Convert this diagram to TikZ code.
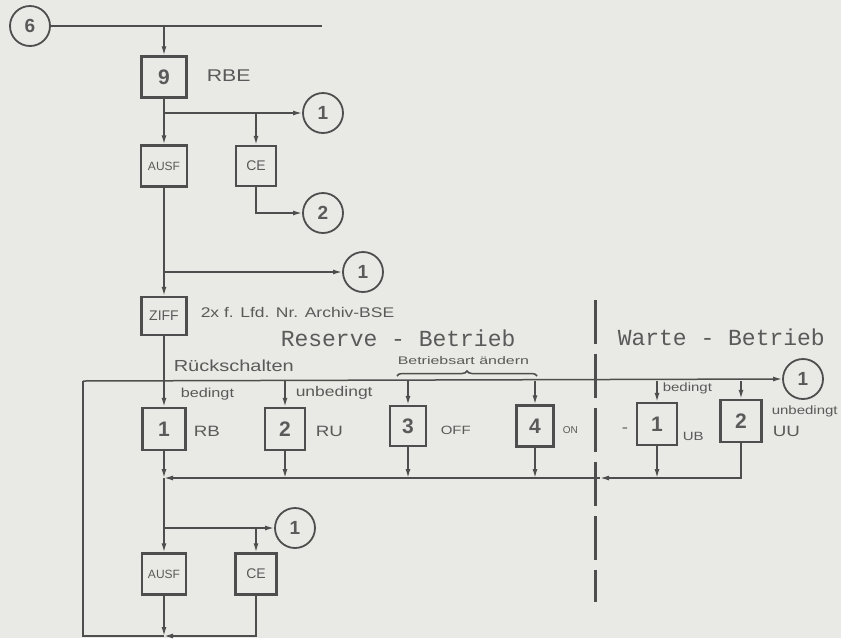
\documentclass[tikz,border=0pt]{standalone}
\definecolor{papergray}{RGB}{233, 233, 229}
\definecolor{inkgray}{RGB}{78, 78, 78}
\definecolor{textgray}{RGB}{90, 90, 90}
\usepackage{fontspec}
\setmainfont{Liberation Sans}
\newfontfamily\stencilfont{Liberation Mono}
\newfontfamily\handfont[FakeStretch=1.25]{Liberation Sans}
\newfontfamily\widehandfont[FakeStretch=1.45]{Liberation Sans}
\usepackage{tikz}
\usetikzlibrary{
    arrows.meta,
    positioning,
    calc,
    decorations.pathreplacing
}

\begin{document}
\begin{tikzpicture}[x=1pt, y=-1pt, line width=1.5pt, draw=inkgray, text=textgray,
            stepbox/.style={draw=inkgray, line width=2.4pt, minimum width=42pt, minimum height=41pt, inner sep=0pt, font=\fontsize{21}{21}\selectfont\bfseries},
            opbox/.style={stepbox, font=\fontsize{12}{12}\selectfont},
            refcircle/.style={draw=inkgray, circle, line width=1.8pt, minimum size=40pt, inner sep=0pt, font=\fontsize{19}{19}\selectfont\bfseries},
            flow/.style={-{Latex[length=9pt, width=5pt]}},
            note/.style={anchor=west, inner sep=0pt, font=\handfont\fontsize{12}{12}\selectfont},
            tag/.style={anchor=west, inner sep=0pt, font=\handfont\fontsize{15}{15}\selectfont},
            headline/.style={anchor=west, inner sep=0pt, font=\stencilfont\fontsize{23}{23}\selectfont}]

            % Frame
            \fill[papergray] (0,0) rectangle (841,638);
            \useasboundingbox (0,0) rectangle (841,638);

            % Upper chain
            \node[refcircle] (c6) at (30,26) {6};
            \node[stepbox, minimum width=45pt] (b9) at (164,77) {9};
            \node[tag, font=\handfont\fontsize{17}{17}\selectfont] (rbe) at (206,76) {RBE};
            \node[opbox, minimum width=46pt] (ausf1) at (164,166) {AUSF};
            \node[opbox, minimum width=40pt, minimum height=40pt, font=\fontsize{14}{14}\selectfont] (ce1) at (256,166) {CE};
            \node[refcircle] (c1a) at (323,113) {1};
            \node[refcircle] (c2) at (323,213) {2};
            \node[refcircle] (c1b) at (363,272) {1};
            \node[opbox, minimum width=45pt, minimum height=38pt, font=\fontsize{14}{14}\selectfont] (ziff) at (164,316) {ZIFF};
            \node[tag, font=\handfont\fontsize{14}{14}\selectfont] (ziffnote) at (200,312) {2x f. Lfd. Nr. Archiv-BSE};

            \coordinate (t0) at (164,26);
            \coordinate (tend) at (322,26);
            \coordinate (j1) at (164,113);
            \coordinate (j1ce) at (256,113);
            \coordinate (j2) at (164,272);

            \draw (c6.east) -- (tend);
            \draw[flow] (t0) -- (b9.north);
            \draw (b9.south) -- (j1);
            \draw[flow] (j1) -- (c1a.west);
            \draw[flow] (j1) -- (ausf1.north);
            \draw[flow] (j1ce) -- (ce1.north);
            \draw[flow] (ce1.south) |- (c2.west);
            \draw (ausf1.south) -- (j2);
            \draw[flow] (j2) -- (c1b.west);
            \draw[flow] (j2) -- (ziff.north);

            % Headings
            \node[headline] (reserve) at (280,338) {Reserve - Betrieb};
            \node[headline] (warte) at (617,337) {Warte - Betrieb};
            \node[tag, font=\handfont\fontsize{16}{16}\selectfont] (rueck) at (173,366) {Rückschalten};
            \node[note, font=\widehandfont\fontsize{11}{11}\selectfont] (bart) at (397,361) {Betriebsart ändern};
            \draw[decorate, decoration={brace, amplitude=5pt}] (397,376) -- (537,376);
            \draw[inkgray, line width=3pt, dash pattern=on 44pt off 10pt] (595,300) -- (595,602);

            % Mode row
            \node[stepbox, minimum width=43pt, minimum height=42pt] (rb) at (164,429) {1};
            \node[stepbox, minimum width=40pt, minimum height=42pt] (ru) at (285,429) {2};
            \node[stepbox, minimum width=36pt, minimum height=40pt] (off) at (408,426) {3};
            \node[stepbox, minimum width=37pt, minimum height=41pt] (on) at (535,426) {4};
            \node[stepbox, minimum width=40pt, minimum height=42pt] (ub) at (657,424) {1};
            \node[stepbox, minimum width=41pt, minimum height=42pt] (uu) at (741,421) {2};
            \node[refcircle] (c1c) at (803,379) {1};

            \node[note, font=\handfont\fontsize{13}{13}\selectfont] (rbcond) at (180,394) {bedingt};
            \node[note, font=\handfont\fontsize{14}{14}\selectfont] (rucond) at (295,393) {unbedingt};
            \node[tag] (rbname) at (193,431) {RB};
            \node[tag] (runame) at (315,431) {RU};
            \node[tag, font=\handfont\fontsize{12}{12}\selectfont] (offname) at (440,430) {OFF};
            \node[tag, font=\fontsize{10}{10}\selectfont] (onname) at (562,430) {ON};
            \node[tag] (dash) at (621,430) {-};
            \node[note] (ubcond) at (662,388) {bedingt};
            \node[tag, font=\handfont\fontsize{12}{12}\selectfont] (ubname) at (682,436) {UB};
            \node[note] (uucond) at (771,411) {unbedingt};
            \node[tag] (uuname) at (772,431) {UU};

            \coordinate (r0) at (164,381);
            \coordinate (rleft) at (83,381);
            \coordinate (rru) at (285,381);
            \coordinate (roff) at (408,381);
            \coordinate (ron) at (535,381);
            \coordinate (rub) at (657,381);
            \coordinate (ruu) at (741,381);

            \draw (ziff.south) -- (r0);
            \draw[flow] (rleft) -- (c1c.west);
            \draw[flow] (r0) -- (rb.north);
            \draw[flow] (rru) -- (ru.north);
            \draw[flow] (roff) -- (off.north);
            \draw[flow] (ron) -- (on.north);
            \draw[flow] (rub) -- (ub.north);
            \draw[flow] (ruu) -- (uu.north);

            % Merge line
            \coordinate (m1) at (164,478);
            \coordinate (mdash) at (600,478);
            \draw[flow] (rb.south) -- (m1);
            \draw[flow] (ru.south) -- (ru.south |- m1);
            \draw[flow] (off.south) -- (off.south |- m1);
            \draw[flow] (on.south) -- (on.south |- m1);
            \draw[flow] (ub.south) -- (ub.south |- m1);
            \draw[flow] (uu.south) |- (mdash);
            \draw[flow] (mdash) -- (m1);

            % Lower chain
            \node[opbox, minimum width=44pt] (ausf2) at (164,574) {AUSF};
            \node[opbox, minimum width=41pt, font=\fontsize{14}{14}\selectfont] (ce2) at (256,574) {CE};
            \node[refcircle] (c1d) at (295,528) {1};

            \coordinate (j4) at (164,528);
            \coordinate (j4ce) at (256,528);
            \coordinate (bm) at (164,636);
            \coordinate (bleft) at (83,636);

            \draw (m1) -- (j4);
            \draw[flow] (j4) -- (c1d.west);
            \draw[flow] (j4) -- (ausf2.north);
            \draw[flow] (j4ce) -- (ce2.north);
            \draw[flow] (ausf2.south) -- (bm);
            \draw[flow] (ce2.south) |- (bm);
            \draw (bm) -- (bleft) -- (rleft);
        \end{tikzpicture}
\end{document}
